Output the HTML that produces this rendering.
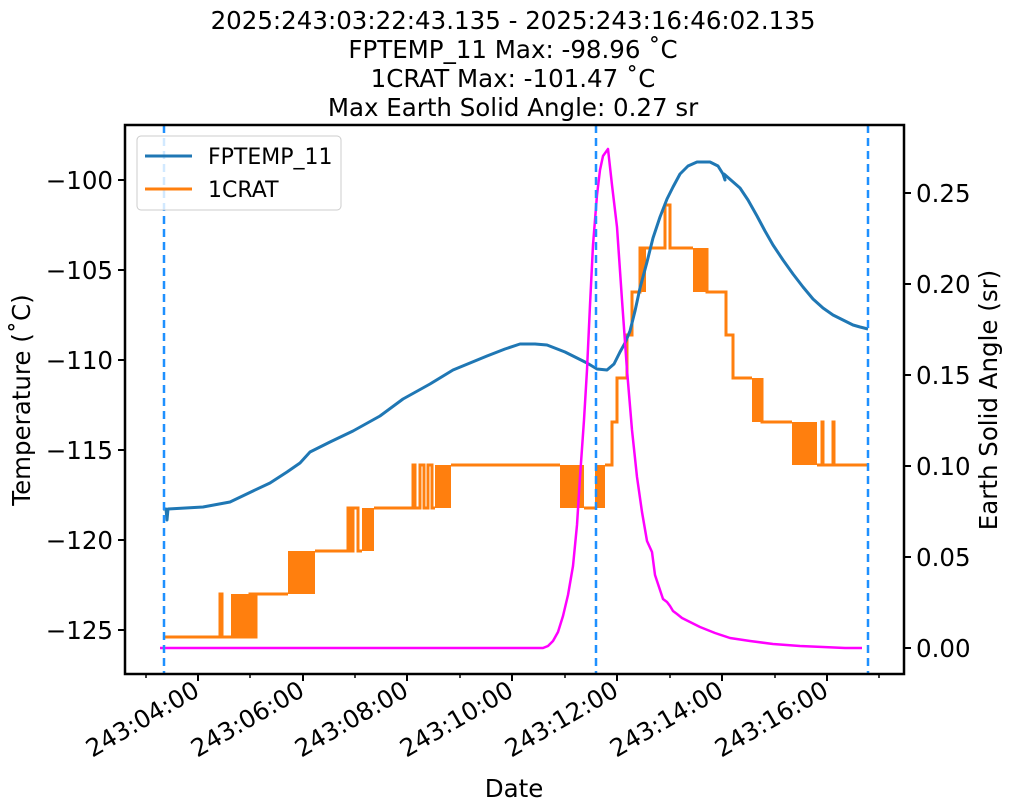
<!DOCTYPE html>
<html><head><meta charset="utf-8"><style>
html,body{margin:0;padding:0;background:#fff;}
svg{display:block;font-family:"DejaVu Sans","Liberation Sans",sans-serif;}
</style></head><body>
<svg width="1011" height="811" viewBox="0 0 1011 811" xmlns="http://www.w3.org/2000/svg">
<rect width="1011" height="811" fill="#fff"/>
<g font-size="24.5" text-anchor="middle" fill="#000">
<text x="513" y="29">2025:243:03:22:43.135 - 2025:243:16:46:02.135</text>
<text x="513" y="58">FPTEMP_11 Max: -98.96 ˚C</text>
<text x="513" y="87">1CRAT Max: -101.47 ˚C</text>
<text x="513" y="116">Max Earth Solid Angle: 0.27 sr</text>
</g>
<g fill="#ff7f0e" stroke="none">
<rect x="231" y="594" width="19" height="43"/>
<rect x="288" y="551" width="27" height="43"/>
<rect x="362" y="508" width="12" height="43"/>
<rect x="435" y="465" width="16" height="43"/>
<rect x="560" y="465" width="24" height="43"/>
<rect x="595" y="465" width="10" height="43"/>
<rect x="640" y="248" width="6" height="44"/>
<rect x="693" y="248" width="14" height="44"/>
<rect x="752" y="378" width="10" height="44"/>
<rect x="792" y="422" width="25" height="43"/>
</g>
<g fill="none" stroke="#ff7f0e" stroke-width="3">
<polyline points="163,637 220,637 220,594 222,594 222,637 231,637 250,637 250,594 253,594 253,637 256,637 256,594 288,594"/>
<polyline points="315,551 348,551 348,508 350,508 350,551 353,551 353,508 358,508 358,551 362,551"/>
<polyline points="374,508 413,508 413,465 415,465 415,508 420,508 420,465 424,465 424,508 428,508 428,465 432,465 432,508 435,508"/>
<polyline points="451,465 560,465"/>
<polyline points="584,508 595,508"/>
<polyline points="605,465 612,465 612,422 617,422 617,378 627,378 627,335 632,335 632,292 640,292 640,248 665,248 665,205 670,205 670,248 693,248"/>
<polyline points="707,248 707,292 726,292 726,335 733,335 733,378 752,378"/>
<polyline points="762,378 762,422 792,422"/>
<polyline points="817,465 822,465 822,422 823,422 823,465 833,465 833,422 834,422 834,465 867,465"/>
</g>
<polyline fill="none" stroke="#1f77b4" stroke-width="3" stroke-linejoin="round" points="163,509 166,509 167,520 168,509 203,507 230,502 253,491 270,483 287,472 300,463 310,452 330,442 353,431 380,416 403,399 430,384 453,370 470,363 487,356 505,349 520,344 535,344 547,345 565,352 587,363 597,369 607,370 614,364 620,352 625,343 630,331 635,311 640,288 647,262 653,238 660,217 667,199 673,187 680,174 688,166 697,162 710,162 718,166 723,174 725,180 724,174 740,188 748,200 757,216 765,231 773,245 783,260 793,274 803,287 813,299 823,308 833,315 843,320 853,325 860,327 868,329"/>
<polyline fill="none" stroke="#ff00ff" stroke-width="2.5" stroke-linejoin="round" points="160,648 543,648 548,646 553,641 558,632 563,616 568,595 573,566 577,525 580,477 584,420 587,370 590,305 593,245 597,195 600,170 603,156 608,149 612,185 617,227 622,300 627,370 632,430 637,477 642,512 647,541 652,552 655,575 660,590 663,599 667,602 670,606 673,611 677,614 682,618 690,622 700,627 715,633 730,638 750,641 773,644 800,646 823,647 845,648 862,648"/>
<g stroke="#1e90ff" stroke-width="2.5" stroke-dasharray="8,5">
<line x1="164" y1="125" x2="164" y2="674"/>
<line x1="596" y1="125" x2="596" y2="674"/>
<line x1="868" y1="125" x2="868" y2="674"/>
</g>
<rect x="137" y="136" width="204" height="74" rx="4" fill="#fff" fill-opacity="0.8" stroke="#ccc" stroke-width="1"/>
<line x1="145" y1="156" x2="192" y2="156" stroke="#1f77b4" stroke-width="3"/>
<line x1="145" y1="189" x2="192" y2="189" stroke="#ff7f0e" stroke-width="3"/>
<g font-size="22" fill="#000">
<text x="208" y="164">FPTEMP_11</text>
<text x="208" y="197">1CRAT</text>
</g>
<rect x="125" y="125" width="779" height="549" fill="none" stroke="#000" stroke-width="2.5"/>
<g stroke="#000" stroke-width="2">
<line x1="118" y1="180" x2="125" y2="180"/><line x1="118" y1="270" x2="125" y2="270"/>
<line x1="118" y1="360" x2="125" y2="360"/><line x1="118" y1="450" x2="125" y2="450"/>
<line x1="118" y1="540" x2="125" y2="540"/><line x1="118" y1="630" x2="125" y2="630"/>
<line x1="904" y1="648" x2="911" y2="648"/><line x1="904" y1="557" x2="911" y2="557"/>
<line x1="904" y1="466" x2="911" y2="466"/><line x1="904" y1="375" x2="911" y2="375"/>
<line x1="904" y1="284" x2="911" y2="284"/><line x1="904" y1="193" x2="911" y2="193"/>
<line x1="198" y1="674" x2="198" y2="681"/><line x1="303" y1="674" x2="303" y2="681"/>
<line x1="407" y1="674" x2="407" y2="681"/><line x1="512" y1="674" x2="512" y2="681"/>
<line x1="617" y1="674" x2="617" y2="681"/><line x1="722" y1="674" x2="722" y2="681"/>
<line x1="827" y1="674" x2="827" y2="681"/>
</g>
<g stroke="#000" stroke-width="1.5">
<line x1="146" y1="674" x2="146" y2="678"/><line x1="250" y1="674" x2="250" y2="678"/>
<line x1="355" y1="674" x2="355" y2="678"/><line x1="460" y1="674" x2="460" y2="678"/>
<line x1="565" y1="674" x2="565" y2="678"/><line x1="670" y1="674" x2="670" y2="678"/>
<line x1="775" y1="674" x2="775" y2="678"/><line x1="879" y1="674" x2="879" y2="678"/>
</g>
<g font-size="24.5" fill="#000" text-anchor="end">
<text x="113" y="189">−100</text><text x="113" y="279">−105</text>
<text x="113" y="369">−110</text><text x="113" y="459">−115</text>
<text x="113" y="549">−120</text><text x="113" y="639">−125</text>
</g>
<g font-size="24.5" fill="#000">
<text x="916" y="657">0.00</text><text x="916" y="566">0.05</text>
<text x="916" y="475">0.10</text><text x="916" y="384">0.15</text>
<text x="916" y="293">0.20</text><text x="916" y="202">0.25</text>
</g>
<g font-size="24.5" fill="#000" text-anchor="end">
<text transform="translate(201,695) rotate(-30)">243:04:00</text>
<text transform="translate(306,695) rotate(-30)">243:06:00</text>
<text transform="translate(410,695) rotate(-30)">243:08:00</text>
<text transform="translate(515,695) rotate(-30)">243:10:00</text>
<text transform="translate(620,695) rotate(-30)">243:12:00</text>
<text transform="translate(725,695) rotate(-30)">243:14:00</text>
<text transform="translate(830,695) rotate(-30)">243:16:00</text>
</g>
<text x="514" y="797" font-size="24.5" text-anchor="middle">Date</text>
<text transform="translate(30,400) rotate(-90)" font-size="24.5" text-anchor="middle">Temperature (˚C)</text>
<text transform="translate(997,400) rotate(-90)" font-size="24.5" text-anchor="middle">Earth Solid Angle (sr)</text>
</svg>
</body></html>
